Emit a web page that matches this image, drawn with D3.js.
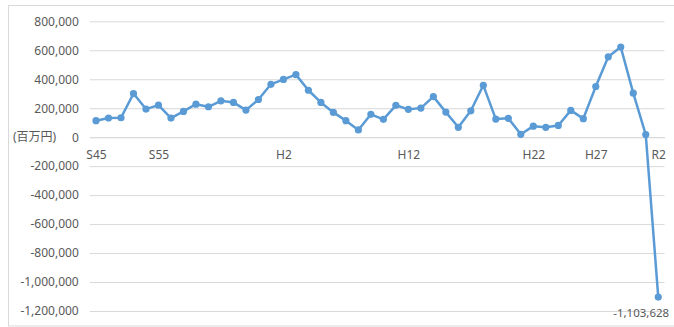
<!DOCTYPE html>
<html>
<head>
<meta charset="utf-8">
<script src="https://cdn.jsdelivr.net/npm/d3@7"></script>
<style>
  body { margin: 0; background: #fff; }
  svg text { font-family: "Noto Sans", "Noto Sans CJK JP", sans-serif; fill: #595959; }
</style>
</head>
<body>
<svg id="chart" width="674" height="327"></svg>
<script>
const years = ['S45','S47','S49','S51','S53','S55','S56','S57','S58','S59','S60','S61','S62','S63',
  'H1','H2','H3','H4','H5','H6','H7','H8','H9','H10','H11','H12','H13','H14','H15','H16','H17','H18',
  'H19','H20','H21','H22','H23','H24','H25','H26','H27','H28','H29','H30','R1','R2'];
const shownTicks = ['S45','S55','H2','H12','H22','H27','R2'];
const balance = [114000, 132000, 134000, 301000, 194000, 221000, 132000, 178000, 228000, 210000,
  251000, 240000, 187000, 260000, 365000, 399000, 432000, 324000, 240000, 171000,
  114000, 50000, 158000, 123000, 220000, 192000, 201000, 280000, 173000, 68000,
  182000, 358000, 125000, 130000, 20000, 76000, 68000, 81000, 185000, 128000,
  350000, 555000, 622000, 304000, 18000, -1103628];
const yTicks = [800000, 600000, 400000, 200000, 0, -200000, -400000, -600000, -800000, -1000000, -1200000];
const unitLabel = '(百万円)';

const svg = d3.select('#chart');
const plotL = 89.75, plotR = 664.5, plotT = 21.3, plotB = 311;
// plain hyphen minus like the spreadsheet
const fmt = d3.formatLocale({ decimal: '.', thousands: ',', grouping: [3], currency: ['', ''], minus: '-' }).format(',');

// chart area border
svg.append('rect').attr('x', 8.5).attr('y', 5.5).attr('width', 700).attr('height', 320.5)
  .attr('fill', 'none').attr('stroke', '#d9d9d9');

const x = d3.scalePoint().domain(years).range([plotL, plotR]).padding(0.5);
const y = d3.scaleLinear().domain([-1200000, 800000]).range([plotB, plotT]);

const yAxis = svg.append('g').attr('transform', `translate(${plotL},0)`)
  .call(d3.axisLeft(y).tickValues(yTicks).tickSize(-(plotR - plotL)).tickPadding(11)
    .tickFormat(fmt));
yAxis.select('.domain').remove();
yAxis.selectAll('line').attr('stroke', '#d9d9d9');
yAxis.selectAll('text').attr('font-size', 12).style('fill', '#595959');

svg.append('text').attr('x', 13).attr('y', y(0)).attr('dy', '0.35em')
  .attr('font-size', 12).text(unitLabel);

const xAxis = svg.append('g').attr('transform', `translate(0,${y(0)})`)
  .call(d3.axisBottom(x).tickSize(0).tickPadding(13)
    .tickFormat(d => shownTicks.includes(d) ? d : ''));
xAxis.select('.domain').attr('stroke', '#d9d9d9');
xAxis.selectAll('text').attr('font-size', 12).style('fill', '#595959');

const pts = years.map((k, i) => ({ k, v: balance[i] }));
svg.append('path').datum(pts)
  .attr('fill', 'none').attr('stroke', '#5b9bd5').attr('stroke-width', 2.5)
  .attr('stroke-linejoin', 'round')
  .attr('d', d3.line().x(d => x(d.k)).y(d => y(d.v)));

svg.append('g').selectAll('circle').data(pts).enter().append('circle')
  .attr('cx', d => x(d.k)).attr('cy', d => y(d.v)).attr('r', 3.6)
  .attr('fill', '#5b9bd5');

const last = pts[pts.length - 1];
svg.append('text').attr('x', x(last.k) - 45).attr('y', y(last.v) + 16).attr('dy', '0.35em')
  .attr('font-size', 11.5).text(fmt(last.v));
</script>
</body>
</html>
